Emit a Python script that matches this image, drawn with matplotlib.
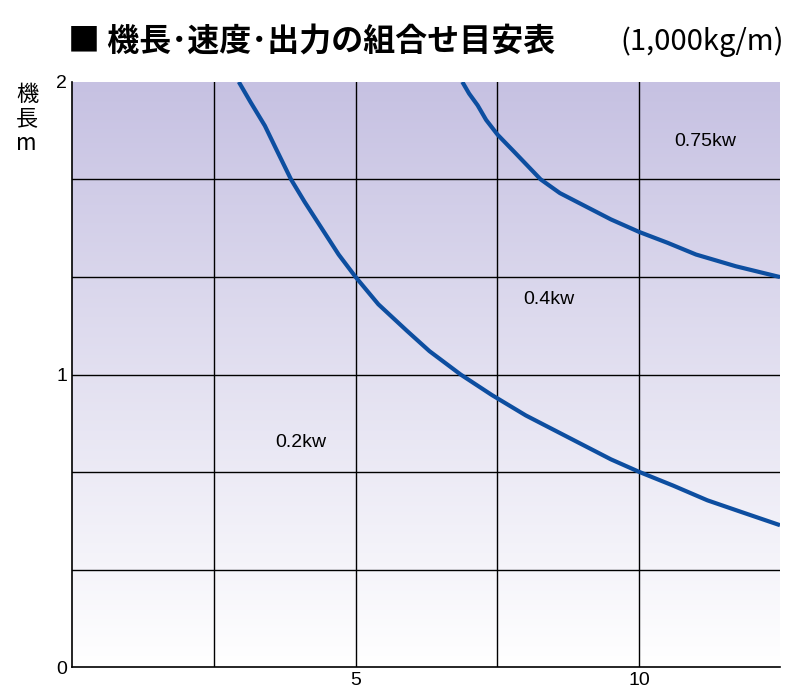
import matplotlib
matplotlib.use("Agg")
import matplotlib.pyplot as plt
import numpy as np

plt.rcParams['font.family'] = ['Noto Sans CJK JP']

x_02 = [2.94, 3.15, 3.4, 3.6, 3.86, 4.1, 4.4, 4.7, 5.0, 5.4, 5.9, 6.3, 6.85, 7.4, 8.0, 8.5, 9.0, 9.5, 10.0, 10.6, 11.2, 11.8, 12.48]
y_02 = [2.0, 1.93, 1.85, 1.77, 1.667, 1.59, 1.5, 1.41, 1.333, 1.24, 1.15, 1.08, 1.0, 0.93, 0.86, 0.81, 0.76, 0.71, 0.667, 0.62, 0.57, 0.53, 0.485]
x_04 = [6.88, 7.0, 7.15, 7.3, 7.5, 7.8, 8.26, 8.6, 9.0, 9.5, 10.0, 10.5, 11.0, 11.7, 12.48]
y_04 = [2.0, 1.96, 1.92, 1.87, 1.82, 1.76, 1.667, 1.62, 1.58, 1.53, 1.487, 1.45, 1.41, 1.37, 1.333]
labels = ["0.2kw", "0.4kw", "0.75kw"]
label_pos = [(4.03, 0.766), (8.4, 1.255), (11.16, 1.795)]
xticks = [5, 10]
yticks = [0, 1, 2]

fig = plt.figure(figsize=(8, 7), dpi=100)
ax = fig.add_axes([0.09, 0.047, 0.885, 0.836])
xmax = 12.48
ax.set_xlim(0, xmax)
ax.set_ylim(0, 2)
grad = np.linspace(0, 1, 256).reshape(-1, 1)
top = np.array([0xc6, 0xc1, 0xe2]) / 255
bot = np.array([1.0, 1.0, 1.0])
img = bot + (top - bot) * grad[::-1]
img = np.repeat(img[:, None, :], 2, axis=1)
ax.imshow(img, extent=[0, xmax, 0, 2], aspect='auto', zorder=0)
for gx in [2.5, 5, 7.5, 10]:
    ax.axvline(gx, color='black', lw=1, zorder=1)
for gy in [1/3, 2/3, 1, 4/3, 5/3]:
    ax.axhline(gy, color='black', lw=1, zorder=1)
ax.plot(x_02, y_02, color='#0d4ea0', lw=3, zorder=3, solid_capstyle='butt', solid_joinstyle='round')
ax.plot(x_04, y_04, color='#0d4ea0', lw=3, zorder=3, solid_capstyle='butt', solid_joinstyle='round')
for t, (px, py) in zip(labels, label_pos):
    ax.text(px, py, t, fontsize=14, ha='center', va='center', fontfamily='Liberation Sans')
ax.set_xticks(xticks)
ax.set_yticks(yticks)
ax.tick_params(length=0, labelsize=14)
for lab in ax.get_xticklabels() + ax.get_yticklabels():
    lab.set_fontfamily('Liberation Sans')
for s in ['top', 'right']:
    ax.spines[s].set_visible(False)
for s in ['left', 'bottom']:
    ax.spines[s].set_linewidth(1.2)
fig.text(0.02, 0.83, "機\n長\nm", fontsize=16, ha='left', va='center', linespacing=1.1)
fig.text(0.085, 0.94, "■ 機長･速度･出力の組合せ目安表", fontsize=23, fontweight='bold', ha='left', va='center')
fig.text(0.98, 0.94, "(1,000kg/m)", fontsize=21, ha='right', va='center')
fig.savefig("out.png")
